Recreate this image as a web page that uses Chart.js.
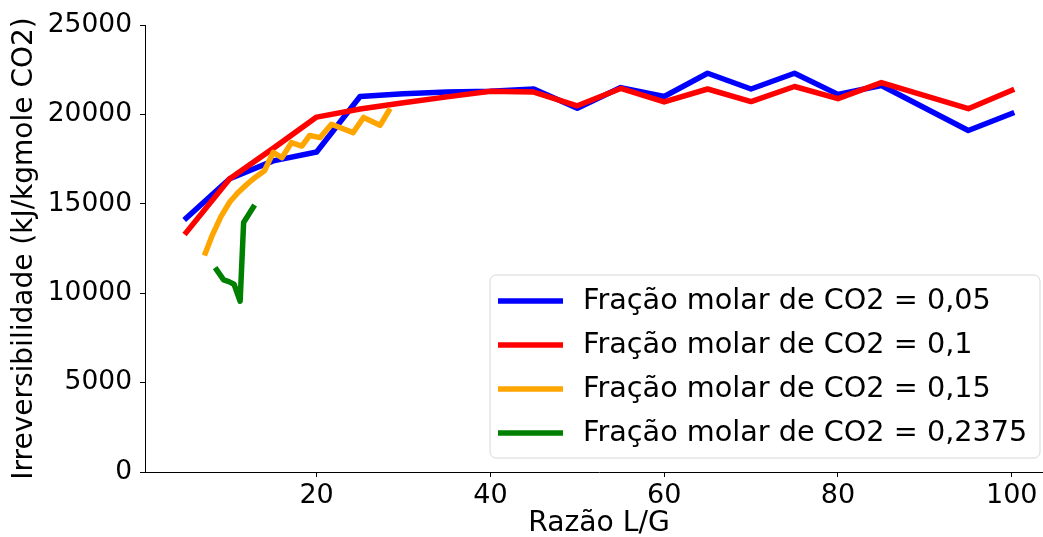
<!DOCTYPE html>
<html>
<head>
<meta charset="utf-8">
<script src="https://cdn.jsdelivr.net/npm/chart.js@4.4.1/dist/chart.umd.min.js"></script>
<style>
  html, body { margin: 0; padding: 0; background: #fff; overflow: hidden; }
  #wrap { width: 1053px; height: 537px; }
</style>
</head>
<body>
<div id="wrap"><canvas id="irrevChart"></canvas></div>
<script>
// Razão L/G for the 0,05 and 0,1 series
var razaoLG = [5, 10, 15, 20, 25, 30, 35, 40, 45, 50, 55, 60, 65, 70, 75, 80, 85, 95, 100];
var irrev005 = [14200, 16400, 17400, 17900, 21000, 21150, 21250, 21300, 21420, 20350, 21500, 21000, 22300, 21420, 22300, 21120, 21620, 19100, 20050];
var irrev010 = [13400, 16400, 18100, 19850, 20300, 20650, 20980, 21300, 21250, 20480, 21450, 20700, 21420, 20720, 21560, 20880, 21780, 20320, 21350];

// 0,15 series
var razaoLG015 = [7.2, 8, 9, 10, 11, 12, 13, 14, 15, 16, 17.1, 18.3, 19.2, 20.4, 21.7, 24.2, 25.4, 27.3, 28.3];
var irrev015 = [12250, 13250, 14300, 15100, 15650, 16100, 16500, 16850, 17870, 17580, 18420, 18230, 18820, 18700, 19450, 18980, 19830, 19390, 20200];

// 0,2375 series
var razaoLG02375 = [8.5, 9.3, 9.9, 10.5, 11.2, 11.6, 12.7];
var irrev02375 = [11300, 10750, 10650, 10500, 9550, 13950, 14800];

var seriesLabels = [
  'Fração molar de CO2 = 0,05',
  'Fração molar de CO2 = 0,1',
  'Fração molar de CO2 = 0,15',
  'Fração molar de CO2 = 0,2375'
];
var seriesColors = ['#0000ff', '#ff0000', '#ffa500', '#008000'];

var xTicks = [20, 40, 60, 80, 100];
var yTicks = [0, 5000, 10000, 15000, 20000, 25000];

function pts(xs, ys) {
  return xs.map(function(x, i) { return { x: x, y: ys[i] }; });
}

var FONT = 'DejaVu Sans';

// legend box drawn inside the plot, lower right
var boxLegend = {
  id: 'boxLegend',
  afterDatasetsDraw: function(chart) {
    var ctx = chart.ctx;
    var x0 = 490, y0 = 275, w = 550, h = 183, r = 6;
    ctx.save();
    ctx.beginPath();
    ctx.moveTo(x0 + r, y0);
    ctx.arcTo(x0 + w, y0, x0 + w, y0 + h, r);
    ctx.arcTo(x0 + w, y0 + h, x0, y0 + h, r);
    ctx.arcTo(x0, y0 + h, x0, y0, r);
    ctx.arcTo(x0, y0, x0 + w, y0, r);
    ctx.closePath();
    ctx.fillStyle = 'rgba(255,255,255,0.8)';
    ctx.fill();
    ctx.strokeStyle = '#d6d6d6';
    ctx.lineWidth = 1;
    ctx.stroke();

    ctx.font = '28.7px "' + FONT + '"';
    ctx.textBaseline = 'middle';
    ctx.textAlign = 'left';
    chart.data.datasets.forEach(function(ds, i) {
      var yy = y0 + 26 + i * 44;
      ctx.strokeStyle = ds.borderColor;
      ctx.lineWidth = 5.5;
      ctx.lineCap = 'butt';
      ctx.beginPath();
      ctx.moveTo(498, yy);
      ctx.lineTo(563, yy);
      ctx.stroke();
      ctx.fillStyle = '#000';
      ctx.fillText(ds.label, 583, yy + 1);
    });
    ctx.restore();
  }
};

var ctx = document.getElementById('irrevChart').getContext('2d');
new Chart(ctx, {
  type: 'line',
  data: {
    datasets: [
      { label: seriesLabels[0], data: pts(razaoLG, irrev005), borderColor: seriesColors[0], order: 4 },
      { label: seriesLabels[1], data: pts(razaoLG, irrev010), borderColor: seriesColors[1], order: 3 },
      { label: seriesLabels[2], data: pts(razaoLG015, irrev015), borderColor: seriesColors[2], order: 2 },
      { label: seriesLabels[3], data: pts(razaoLG02375, irrev02375), borderColor: seriesColors[3], order: 1 }
    ]
  },
  options: {
    responsive: true,
    maintainAspectRatio: false,
    animation: false,
    layout: { padding: { top: 25, right: 0, left: 0, bottom: 0 } },
    elements: {
      line: { borderWidth: 5.5, tension: 0, fill: false, borderJoinStyle: 'round', borderCapStyle: 'square' },
      point: { radius: 0, hoverRadius: 0 }
    },
    plugins: {
      legend: { display: false },
      tooltip: { enabled: false }
    },
    scales: {
      x: {
        type: 'linear',
        min: 0.25,
        max: 104.75,
        afterBuildTicks: function(scale) {
          scale.ticks = xTicks.map(function(v) { return { value: v }; });
        },
        afterFit: function(scale) { scale.height = 65; },
        grid: { display: true, drawOnChartArea: false, drawTicks: true, tickLength: 5, color: '#000' },
        border: { display: true, color: '#000', width: 1 },
        ticks: { color: '#000', padding: 3, maxRotation: 0, font: { family: FONT, size: 27 } },
        title: { display: true, text: 'Razão L/G', color: '#000', padding: { top: 0, bottom: -4 }, font: { family: FONT, size: 28.2 } }
      },
      y: {
        min: 0,
        max: 25000,
        afterBuildTicks: function(scale) {
          scale.ticks = yTicks.map(function(v) { return { value: v }; });
        },
        afterFit: function(scale) { scale.width = 145; },
        grid: { display: true, drawOnChartArea: false, drawTicks: true, tickLength: 5, color: '#000' },
        border: { display: true, color: '#000', width: 1 },
        ticks: {
          color: '#000', padding: 8, font: { family: FONT, size: 26.5 },
          callback: function(v) { return String(v); }
        },
        title: { display: true, text: 'Irreversibilidade (kJ/kgmole CO2)', color: '#000', padding: { top: 8, bottom: 0 }, font: { family: FONT, size: 28 } }
      }
    }
  },
  plugins: [boxLegend]
});
</script>
</body>
</html>
